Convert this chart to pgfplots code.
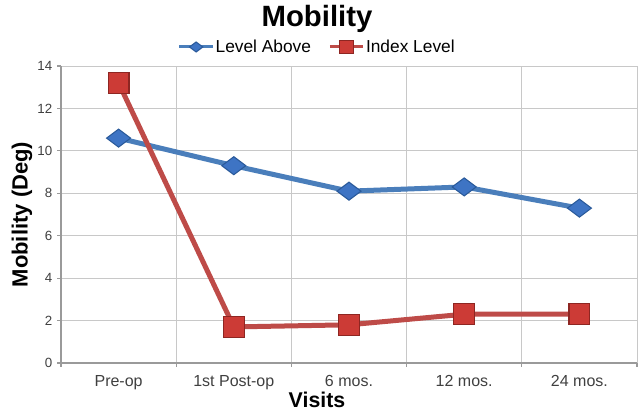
\documentclass[border=0pt]{standalone}
\usepackage{fontspec}
\setmainfont{Liberation Sans}
\usepackage{pgfplots}
\pgfplotsset{compat=1.18}
\definecolor{gridc}{HTML}{C8C8C8}
\definecolor{axc}{HTML}{9A9A9A}
\definecolor{bline}{HTML}{4A7EBB}
\definecolor{bfill}{HTML}{3E74C4}
\definecolor{bdraw}{HTML}{2A5A9A}
\definecolor{rline}{HTML}{BE4B48}
\definecolor{rfill}{HTML}{CC3B36}
\definecolor{rdraw}{HTML}{8E2622}
\definecolor{tickc}{HTML}{404040}
\begin{document}
\begin{tikzpicture}
\begin{axis}[
  at={(0,0)}, anchor=south west,
  width=432pt, height=222.75pt, scale only axis,
  xmin=-0.5, xmax=4.5, ymin=0, ymax=14,
  ytick={0,2,...,14},
  xtick={-0.5,0.5,1.5,2.5,3.5,4.5},
  xticklabels={Pre-op,1st Post-op,6 mos.,12 mos.,24 mos.},
  x tick label as interval,
  axis lines*=left,
  axis line style={axc, line width=0.8pt},
  grid=major,
  grid style={gridc, line width=0.7pt},
  tick align=outside,
  major tick length=3pt,
  tick style={axc, line width=0.8pt},
  /pgf/number format/assume math mode=true,
  yticklabel style={font=\fontsize{10}{12}\selectfont, text=tickc},
  xticklabel style={font=\fontsize{12}{14}\selectfont, text=tickc, yshift=-3pt},
  xlabel={Visits},
  ylabel={Mobility (Deg)},
  xlabel style={font=\bfseries\fontsize{16}{18}\selectfont, at={([xshift=-24pt,yshift=-27.75pt]axis description cs:0.5,0)}, anchor=center},
  ylabel style={font=\bfseries\fontsize{16.5}{18}\selectfont, at={([xshift=-29.25pt]axis description cs:0,0.5)}, anchor=center},
  legend columns=2,
  legend style={at={(axis description cs:0.5,1)}, anchor=center, yshift=14.25pt, xshift=-24pt, draw=none, fill=none,
    font=\fontsize{13}{15}\selectfont, /tikz/every even column/.append style={column sep=12pt},
    nodes={inner sep=1pt}},
  legend image code/.code={
    \draw[#1, line width=2.25pt] (0pt,0pt) -- (25pt,0pt);
    \path[#1, mark size=5pt] plot coordinates {(12.5pt,0pt)};
  },
]
\addplot[bline, line width=3.75pt, mark=diamond*, mark size=9pt,
  mark options={rotate=90, fill=bfill, draw=bdraw, line width=0.8pt}]
  coordinates {(0,10.6) (1,9.3) (2,8.1) (3,8.3) (4,7.3)};
\addlegendentry{Level Above}
\addplot[rline, line width=3.75pt, mark=square*, mark size=7.8pt,
  mark options={fill=rfill, draw=rdraw, line width=0.8pt}]
  coordinates {(0,13.2) (1,1.7) (2,1.8) (3,2.3) (4,2.3)};
\addlegendentry{Index Level}
\end{axis}
\node[font=\bfseries\fontsize{22}{24}\selectfont] at (192pt,258pt) {Mobility};
\pgfresetboundingbox
\path (-45.75pt,-37.5pt) rectangle (432.75pt,272.25pt);
\end{tikzpicture}
\end{document}
